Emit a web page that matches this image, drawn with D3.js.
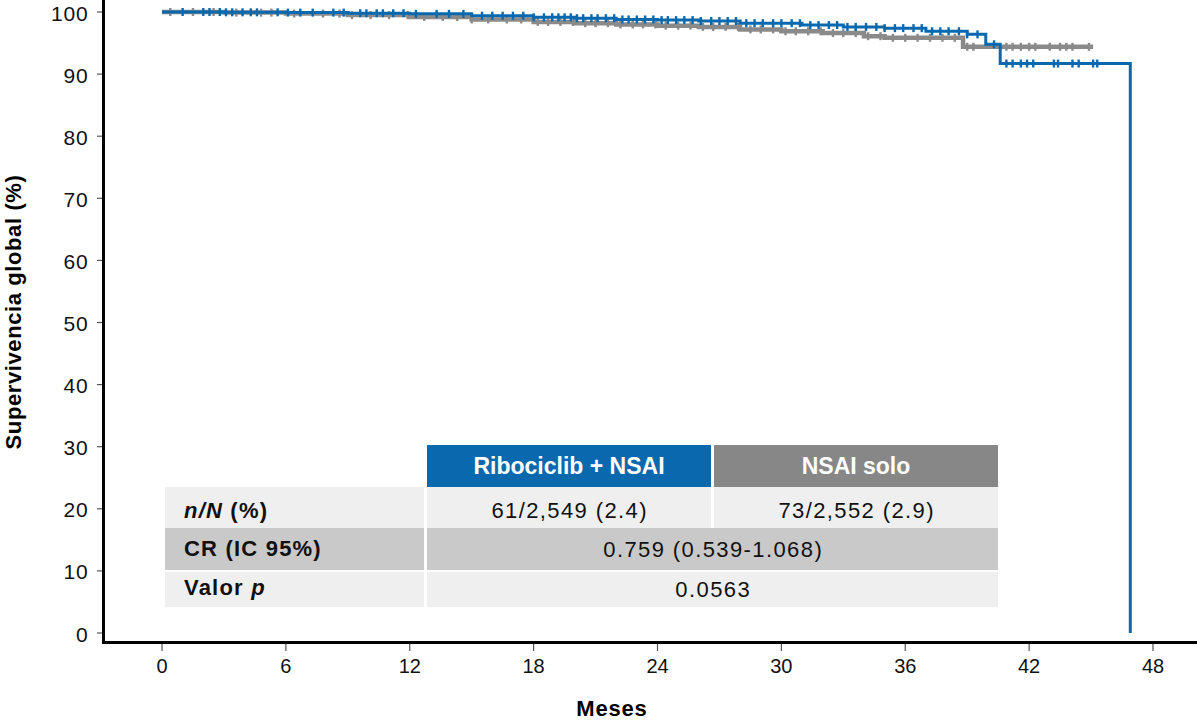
<!DOCTYPE html>
<html><head><meta charset="utf-8">
<script src="https://cdn.jsdelivr.net/npm/d3@7"></script>
<style>
html,body{margin:0;padding:0;background:#fff;}
svg text{font-family:"Liberation Sans",Arial,Helvetica,sans-serif;}
</style></head>
<body><svg id="c" width="1197" height="723"></svg>
<script>
// ---------- data ----------
const xTicks = [0, 6, 12, 18, 24, 30, 36, 42, 48];
const yTicks = [0, 10, 20, 30, 40, 50, 60, 70, 80, 90, 100];

// Kaplan–Meier steps (month, survival %)
const riboTimes = [0, 3, 6, 9, 12, 15, 18, 20, 22, 24, 26, 28, 31, 33, 35, 37, 39, 39.9, 40.6, 46.9];
const riboSurv  = [100, 99.95, 99.9, 99.8, 99.7, 99.4, 99.15, 99.0, 98.8, 98.7, 98.55, 98.2, 97.9, 97.6, 97.4, 96.9, 96.4, 94.8, 91.7, 0];

const nsaiTimes = [0, 3, 6, 9, 12, 15, 18, 20, 22, 24, 26, 28, 30, 32, 34, 35, 38.8, 45.1];
const nsaiSurv  = [100, 99.9, 99.75, 99.5, 99.2, 98.8, 98.4, 98.2, 98.0, 97.8, 97.6, 97.2, 96.9, 96.6, 96.1, 95.85, 94.4, 94.4];

// censor marks (months)
const riboCensor = [1.0, 2.0, 2.3, 2.8, 3.1, 3.4, 3.9, 4.3, 4.6, 5.6, 6.1, 6.7, 7.3, 8.3, 8.8, 9.6, 9.9, 10.4, 10.7, 11.2, 11.7, 12.3, 13.3, 13.9, 14.6, 15.5, 16.0, 16.5, 17.0, 17.5, 18.0, 18.5,
  18.9, 19.2, 19.5, 19.8, 20.1, 20.4, 20.8, 21.1, 21.5, 21.9, 22.3, 22.6, 23.0, 23.4, 23.8, 24.2, 24.5, 24.9, 25.3, 25.7, 26.1, 26.6, 27.0, 27.4, 27.8, 28.3, 28.7, 29.1, 29.6, 30.0, 30.5, 30.9, 31.4, 31.8, 32.3, 32.7, 33.2, 33.6, 34.1, 34.6, 35.0, 35.5, 35.9, 36.4, 36.8, 37.3, 37.7, 38.1, 38.6, 39.0, 39.5,
  40.3, 40.9, 41.2, 41.6, 41.9, 42.2, 43.2, 43.4, 44.1, 44.4, 45.1, 45.3];
const nsaiCensor = [0.4, 1.5, 2.5, 3.6, 4.8, 5.3, 6.4, 7.8, 8.6, 9.2, 10.1, 11.0, 11.9, 12.7, 13.6, 14.3, 15.0, 15.8, 16.7, 17.4, 18.2, 18.7, 19.3, 19.9, 20.5, 21.0, 21.6, 22.2, 22.8, 23.3, 23.9, 24.4, 25.0, 25.6, 26.2, 26.7, 27.3, 27.9, 28.5, 29.0, 29.6, 30.2, 30.7, 31.3, 31.9, 32.5, 33.0, 33.6, 34.2, 34.8, 35.4, 36.0, 36.6, 37.2, 37.8, 38.4,
  39.0, 39.3, 40.9, 41.2, 41.6, 42.0, 42.3, 43.0, 43.5, 43.8, 44.1, 44.9];

// table
const seriesNames = ["Ribociclib + NSAI", "NSAI solo"];
const nN = ["61/2,549 (2.4)", "73/2,552 (2.9)"];
const hrText = "0.759 (0.539-1.068)";
const pText = "0.0563";

// ---------- drawing ----------
const BLUE = "#0a69ae", GRAY = "#8a8a8a";
const svg = d3.select("#c");
const x = d3.scaleLinear().domain([0, 48]).range([162, 1153]);
const y = d3.scaleLinear().domain([0, 100]).range([633, 12]);

function stepVal(times, surv, t) {
  let v = surv[0];
  for (let i = 0; i < times.length; i++) { if (times[i] <= t) v = surv[i]; }
  return v;
}

// table
const tg = svg.append("g");
const L0 = 165, L1 = 424, c1x0 = 427, c1x1 = 711, c2x0 = 714, c2x1 = 998;
const rows = [{y0: 445, y1: 487}, {y0: 487, y1: 528}, {y0: 528, y1: 570}, {y0: 572, y1: 607}];
tg.append("rect").attr("x", c1x0).attr("y", rows[0].y0).attr("width", c1x1 - c1x0).attr("height", rows[0].y1 - rows[0].y0).attr("fill", BLUE);
tg.append("rect").attr("x", c2x0).attr("y", rows[0].y0).attr("width", c2x1 - c2x0).attr("height", rows[0].y1 - rows[0].y0).attr("fill", "#878787");
const rowFill = ["#efefef", "#c9c9c9", "#efefef"];
[1, 2, 3].forEach((ri, k) => {
  const r = rows[ri];
  tg.append("rect").attr("x", L0).attr("y", r.y0).attr("width", L1 - L0).attr("height", r.y1 - r.y0).attr("fill", rowFill[k]);
  if (ri === 1) {
    tg.append("rect").attr("x", c1x0).attr("y", r.y0).attr("width", c1x1 - c1x0).attr("height", r.y1 - r.y0).attr("fill", rowFill[k]);
    tg.append("rect").attr("x", c2x0).attr("y", r.y0).attr("width", c2x1 - c2x0).attr("height", r.y1 - r.y0).attr("fill", rowFill[k]);
  } else {
    tg.append("rect").attr("x", c1x0).attr("y", r.y0).attr("width", c2x1 - c1x0).attr("height", r.y1 - r.y0).attr("fill", rowFill[k]);
  }
});
const hdrStyle = t => t.attr("font-size", 23).attr("font-weight", "bold").attr("fill", "#fff").attr("text-anchor", "middle");
hdrStyle(tg.append("text").attr("x", (c1x0 + c1x1) / 2).attr("y", 474).text(seriesNames[0]));
hdrStyle(tg.append("text").attr("x", (c2x0 + c2x1) / 2).attr("y", 474).text(seriesNames[1]));

const lab = (yy) => tg.append("text").attr("x", 184).attr("y", yy).attr("font-size", 22).attr("font-weight", "bold").attr("fill", "#111").attr("letter-spacing", "1.2");
let t1 = lab(518);
t1.append("tspan").attr("font-style", "italic").text("n/N");
t1.append("tspan").text(" (%)");
lab(556).text("CR (IC 95%)");
let t3 = lab(595);
t3.append("tspan").text("Valor ");
t3.append("tspan").attr("font-style", "italic").text("p");

const val = (xx, yy, s) => tg.append("text").attr("x", xx + 0.7).attr("y", yy).attr("font-size", 22).attr("fill", "#111").attr("text-anchor", "middle").attr("letter-spacing", "1.4").text(s);
val((c1x0 + c1x1) / 2, 518, nN[0]);
val((c2x0 + c2x1) / 2, 518, nN[1]);
val((c1x0 + c2x1) / 2, 557, hrText);
val((c1x0 + c2x1) / 2, 597, pText);

// curves
const line = d3.line().x(d => x(d[0])).y(d => y(d[1])).curve(d3.curveStepAfter);
function drawSeries(times, surv, cens, color, w) {
  const pts = times.map((t, i) => [t, surv[i]]);
  svg.append("path").attr("d", line(pts)).attr("fill", "none").attr("stroke", color).attr("stroke-width", w);
  svg.append("g").selectAll("line").data(cens).join("line")
    .attr("x1", d => x(d)).attr("x2", d => x(d))
    .attr("y1", d => y(stepVal(times, surv, d)) - 4)
    .attr("y2", d => y(stepVal(times, surv, d)) + 4)
    .attr("stroke", color).attr("stroke-width", 2.4);
}
drawSeries(nsaiTimes, nsaiSurv, nsaiCensor, GRAY, 4.5);
drawSeries(riboTimes, riboSurv, riboCensor, BLUE, 3);

// axes
const ax = svg.append("g");
ax.selectAll(".yt").data(yTicks).join("line").attr("class", "yt")
  .attr("x1", 97).attr("x2", 103).attr("y1", d => y(d)).attr("y2", d => y(d)).attr("stroke", "#555").attr("stroke-width", 1.2);
ax.selectAll(".yl").data(yTicks).join("text").attr("class", "yl")
  .attr("x", 88.5).attr("y", d => y(d) + 8.5).attr("text-anchor", "end").attr("font-size", 21).attr("letter-spacing", "0.8").attr("fill", "#111").text(d => d);
ax.selectAll(".xt").data(xTicks).join("line").attr("class", "xt")
  .attr("x1", d => x(d)).attr("x2", d => x(d)).attr("y1", 644).attr("y2", 651).attr("stroke", "#555").attr("stroke-width", 1.2);
ax.selectAll(".xl").data(xTicks).join("text").attr("class", "xl")
  .attr("x", d => x(d)).attr("y", 673).attr("text-anchor", "middle").attr("font-size", 20).attr("fill", "#111").text(d => d);
ax.append("line").attr("x1", 103.5).attr("x2", 103.5).attr("y1", 0).attr("y2", 644).attr("stroke", "#000").attr("stroke-width", 3);
ax.append("line").attr("x1", 102).attr("x2", 1197).attr("y1", 642.5).attr("y2", 642.5).attr("stroke", "#000").attr("stroke-width", 3);

// titles
svg.append("text").attr("x", 612).attr("y", 716).attr("text-anchor", "middle").attr("font-size", 22).attr("font-weight", "bold").attr("fill", "#000").attr("letter-spacing", "0.8").text("Meses");
svg.append("text").attr("transform", "translate(21,312) rotate(-90)").attr("text-anchor", "middle").attr("font-size", 22).attr("font-weight", "bold").attr("fill", "#000").attr("letter-spacing", "0.6").text("Supervivencia global (%)");
</script></body></html>
